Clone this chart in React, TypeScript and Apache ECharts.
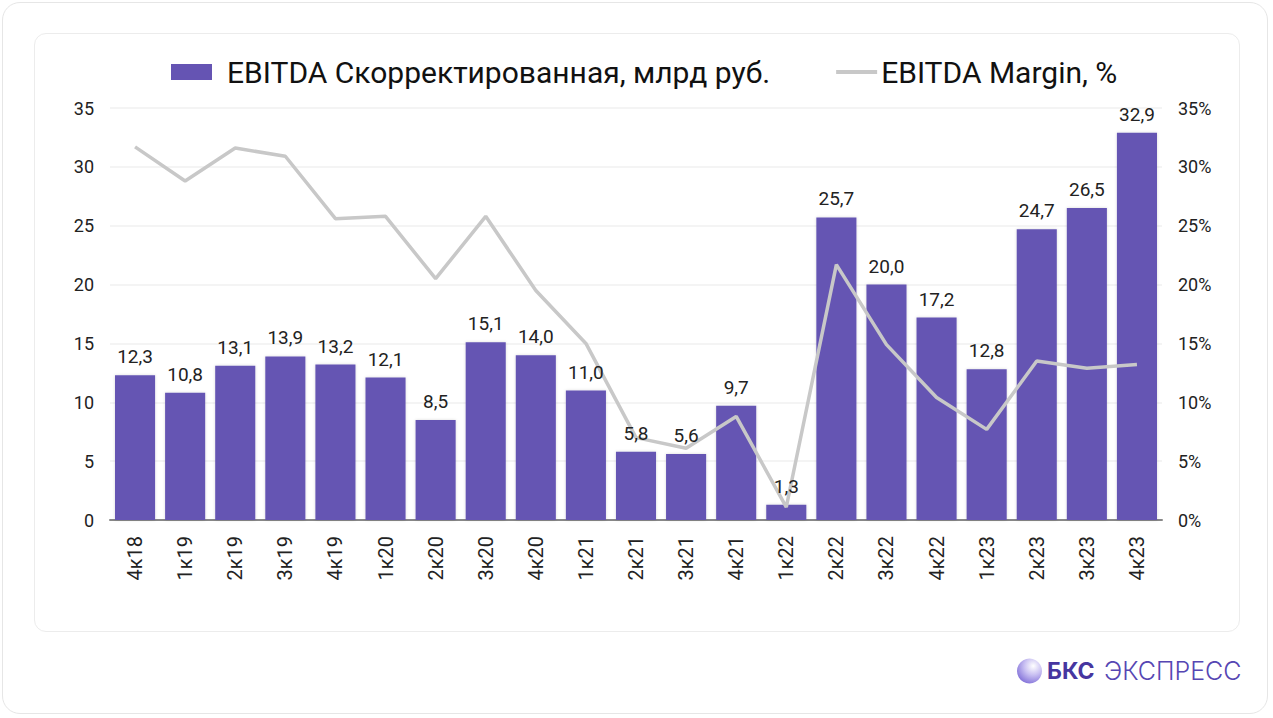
import React, { useEffect, useRef } from "react";
import * as echarts from "echarts";

const categories = ["4к18","1к19","2к19","3к19","4к19","1к20","2к20","3к20","4к20","1к21","2к21","3к21","4к21","1к22","2к22","3к22","4к22","1к23","2к23","3к23","4к23"];
const ebitda = [12.3,10.8,13.1,13.9,13.2,12.1,8.5,15.1,14.0,11.0,5.8,5.6,9.7,1.3,25.7,20.0,17.2,12.8,24.7,26.5,32.9];
const margin = [31.7,28.8,31.6,30.9,25.6,25.8,20.5,25.8,19.5,15.0,7.0,6.1,8.8,1.1,21.7,14.9,10.4,7.7,13.5,12.9,13.2];
const leftTicks = [0, 35, 5];
const rightTicks = [0, 35, 5];

const barName = "EBITDA Скорректированная, млрд руб.";
const lineName = "EBITDA Margin, %";

export default function App() {
  const ref = useRef<HTMLDivElement>(null);
  useEffect(() => {
    document.body.style.margin = "0";
    const chart = echarts.init(ref.current!, null, { renderer: "svg" });
    chart.setOption({
      animation: false,
      textStyle: { fontFamily: "Roboto" },
      legend: {
        top: 52,
        left: 166,
        itemWidth: 41,
        itemHeight: 16,
        itemGap: 66,
        textStyle: { fontSize: 30, color: "#111", fontFamily: "Roboto" },
        data: [
          { name: barName, icon: "rect", textStyle: { padding: [0, 0, 0, 10] } },
          { name: lineName, icon: "path://M0,0H40V4H0Z", textStyle: { padding: [0, 0, 0, -1] } },
        ],
      },
      grid: { left: 110, right: 111, top: 108, bottom: 198 },
      xAxis: {
        type: "category",
        data: categories,
        axisLine: { lineStyle: { color: "#888", width: 2 } },
        axisTick: { show: false },
        axisLabel: { rotate: 90, fontSize: 20, color: "#222", margin: 16 },
      },
      yAxis: [
        {
          type: "value",
          min: leftTicks[0],
          max: leftTicks[1],
          interval: leftTicks[2],
          axisLabel: { fontSize: 18, color: "#222", margin: 16 },
          splitLine: { lineStyle: { color: "#f0f0f0", width: 1.5 } },
        },
        {
          type: "value",
          min: rightTicks[0],
          max: rightTicks[1],
          interval: rightTicks[2],
          position: "right",
          axisLabel: { fontSize: 18, color: "#222", margin: 16, formatter: "{value}%" },
          splitLine: { show: false },
        },
      ],
      series: [
        {
          name: barName,
          type: "bar",
          data: ebitda,
          barWidth: "80%",
          z: 2,
          itemStyle: { color: "#6554b3", shadowColor: "rgba(0,0,0,0.15)", shadowBlur: 3 },
        },
        {
          name: lineName,
          type: "line",
          yAxisIndex: 1,
          data: margin,
          symbol: "none",
          z: 3,
          lineStyle: { color: "#c8c8c8", width: 3.5 },
          itemStyle: { color: "#c8c8c8" },
        },
        {
          name: "labels",
          type: "bar",
          data: ebitda,
          barWidth: "80%",
          barGap: "-100%",
          z: 4,
          silent: true,
          itemStyle: { color: "rgba(0,0,0,0)" },
          label: {
            show: true,
            position: "top",
            distance: 9,
            fontSize: 19,
            color: "#222",
            formatter: (p: any) => p.value.toFixed(1).replace(".", ","),
          },
        },
      ],
      graphic: [
        {
          type: "circle",
          shape: { cx: 1029.5, cy: 671, r: 12.5 },
          style: {
            fill: new echarts.graphic.RadialGradient(0.65, 0.3, 0.9, [
              { offset: 0, color: "#ffffff" },
              { offset: 0.4, color: "#c9c0f2" },
              { offset: 1, color: "#6a56d0" },
            ]),
          },
        },
        {
          type: "text",
          x: 1047,
          y: 671,
          style: { text: "БКС", fontSize: 23, fontWeight: "bold", fill: "#4636a0", verticalAlign: "middle", fontFamily: "Inter" },
        },
        {
          type: "text",
          x: 1104,
          y: 671,
          style: { text: "ЭКСПРЕСС", fontSize: 25, fontWeight: 300, fill: "#5646b3", verticalAlign: "middle", fontFamily: "Inter" },
        },
      ],
    });
    return () => chart.dispose();
  }, []);
  return (
    <div style={{ position: "fixed", left: 0, top: 0, width: 1273, height: 718, background: "#fff" }}>
      <div style={{ position: "absolute", left: 2, top: 2, width: 1266, height: 712, border: "1px solid #e6e6e6", borderRadius: 18, boxSizing: "border-box" }} />
      <div style={{ position: "absolute", left: 34, top: 33, width: 1206, height: 599, border: "1px solid #ececec", borderRadius: 12, boxSizing: "border-box" }} />
      <div ref={ref} style={{ position: "absolute", left: 0, top: 0, width: 1273, height: 718 }} />
    </div>
  );
}
